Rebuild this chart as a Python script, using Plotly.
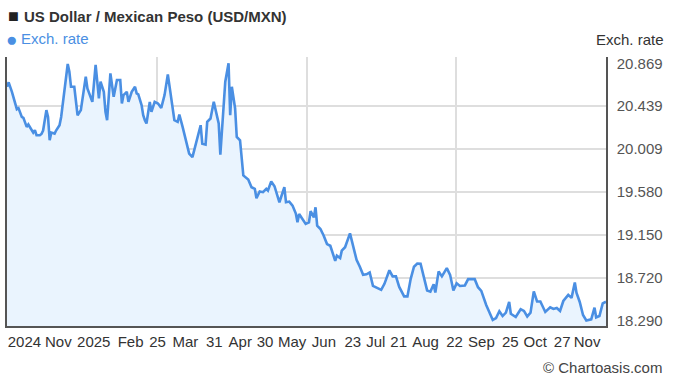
import plotly.graph_objects as go
import pandas as pd

# ---------------- data ----------------
start_date = "2024-11-26"
span_days = 365

day_offsets = [
    0, 1, 3, 5, 6, 7, 9, 10, 12, 13, 15, 16, 17, 18, 20, 21, 22, 24, 25, 26,
    27, 29, 30, 32, 33, 35, 37, 38, 39, 41, 42, 43, 45, 46, 48, 49, 51, 52, 54, 55,
    56, 57, 59, 60, 61, 63, 64, 65, 67, 69, 70, 71, 73, 74, 76, 78, 79, 80, 82, 83,
    84, 85, 87, 88, 90, 92, 94, 96, 98, 100, 102, 104, 105, 107, 109, 111, 113, 115, 118, 119,
    121, 122, 124, 126, 128, 129, 130, 132, 133, 135, 136, 137, 139, 140, 142, 144, 146, 147, 149, 151,
    152, 154, 156, 158, 159, 161, 163, 166, 169, 170, 172, 174, 176, 177, 178, 180, 182, 184, 185, 187,
    188, 189, 191, 193, 195, 197, 200, 201, 203, 204, 206, 209, 211, 213, 215, 217, 219, 221, 223, 225,
    228, 230, 232, 233, 235, 237, 239, 242, 244, 246, 248, 250, 252, 254, 256, 258, 260, 261, 263, 265,
    268, 270, 272, 274, 276, 279, 281, 285, 287, 289, 292, 296, 298, 300, 302, 304, 306, 307, 310, 313,
    315, 317, 319, 321, 323, 325, 328, 331, 333, 335, 337, 339, 342, 344, 346, 347, 349, 351, 353, 356,
    358, 359, 361, 363, 365,
]

rates = [
    20.633, 20.678, 20.583, 20.449, 20.409, 20.419, 20.331, 20.321, 20.231, 20.255,
    20.197, 20.174, 20.197, 20.147, 20.147, 20.160, 20.194, 20.399, 20.331, 20.097,
    20.174, 20.164, 20.197, 20.248, 20.331, 20.600, 20.862, 20.784, 20.633, 20.633,
    20.449, 20.348, 20.399, 20.517, 20.734, 20.617, 20.533, 20.482, 20.852, 20.684,
    20.517, 20.684, 20.583, 20.382, 20.298, 20.768, 20.617, 20.533, 20.701, 20.701,
    20.466, 20.550, 20.583, 20.482, 20.583, 20.633, 20.567, 20.557, 20.449, 20.348,
    20.298, 20.265, 20.482, 20.382, 20.482, 20.466, 20.422, 20.550, 20.758, 20.550,
    20.298, 20.281, 20.355, 20.231, 20.097, 19.963, 19.928, 20.063, 20.248, 20.063,
    20.053, 20.281, 20.315, 20.482, 20.331, 20.265, 19.953, 20.466, 20.684, 20.869,
    20.348, 20.633, 20.416, 20.130, 20.097, 19.744, 19.711, 19.704, 19.626, 19.610,
    19.516, 19.583, 19.576, 19.610, 19.593, 19.684, 19.636, 19.475, 19.626, 19.475,
    19.482, 19.442, 19.362, 19.274, 19.358, 19.308, 19.258, 19.274, 19.385, 19.324,
    19.425, 19.241, 19.207, 19.140, 19.056, 19.039, 18.888, 18.939, 18.915, 18.989,
    19.024, 19.163, 19.014, 18.898, 18.828, 18.747, 18.752, 18.770, 18.636, 18.619,
    18.596, 18.657, 18.754, 18.793, 18.732, 18.732, 18.626, 18.531, 18.531, 18.707,
    18.828, 18.861, 18.858, 18.737, 18.591, 18.579, 18.652, 18.569, 18.782, 18.732,
    18.815, 18.747, 18.591, 18.662, 18.636, 18.641, 18.704, 18.704, 18.623, 18.586,
    18.445, 18.295, 18.314, 18.382, 18.334, 18.368, 18.475, 18.357, 18.324, 18.402,
    18.385, 18.329, 18.368, 18.581, 18.480, 18.480, 18.375, 18.422, 18.405, 18.415,
    18.385, 18.485, 18.546, 18.516, 18.670, 18.569, 18.475, 18.344, 18.290, 18.301,
    18.418, 18.321, 18.334, 18.460, 18.478,
]

x_tick_labels = ["2024", "Nov", "2025", "Feb", "25", "Mar", "31", "Apr", "30", "May",
                 "Jun", "23", "Jul", "21", "Aug", "22", "Sep", "25", "Oct", "27", "Nov"]
y_tick_values = [18.290, 18.720, 19.150, 19.580, 20.009, 20.439, 20.869]

title_text = "US Dollar / Mexican Peso (USD/MXN)"
series_name = "Exch. rate"
axis_title = "Exch. rate"
credit_text = "© Chartoasis.com"

# ---------------- layout / positions ----------------
W, H = 675, 382
PL, PR, PT, PB = 5, 606, 57, 326          # plot area in pixels
y_range = [18.234, 20.932]

x_tick_frac = [0.0291, 0.0857, 0.1448, 0.2063, 0.2512, 0.2978, 0.3461, 0.3894, 0.4309,
               0.4759, 0.5291, 0.5774, 0.6156, 0.6539, 0.6988, 0.7471, 0.7920, 0.8403,
               0.8819, 0.9268, 0.9684]
x_grid_frac = [0.25, 0.5, 0.75]

t0 = pd.Timestamp(start_date)
dates = [(t0 + pd.Timedelta(days=d)).strftime("%Y-%m-%d") for d in day_offsets]


def frac_to_date(f):
    return (t0 + pd.Timedelta(hours=f * span_days * 24)).strftime("%Y-%m-%d %H:%M:%S")


def px(x):
    return (x - PL) / (PR - PL)


def py(y):
    return (PB - y) / (PB - PT)


LINE = "#4a8fe3"
FILL = "#eaf4fe"
GRID = "#dedede"
AXIS = "#555555"
FONT = "Liberation Sans, Arial, sans-serif"

fig = go.Figure()
fig.add_trace(go.Scatter(
    x=dates, y=rates, mode="lines", name=series_name,
    line=dict(color=LINE, width=2.6),
    fill="tozeroy", fillcolor=FILL, showlegend=False,
    hoverinfo="x+y",
))

fig.update_layout(
    width=W, height=H,
    margin=dict(l=PL, r=W - PR, t=PT, b=H - PB, pad=0),
    paper_bgcolor="white", plot_bgcolor="white",
    font=dict(family=FONT, size=15, color="#333333"),
    xaxis=dict(
        type="date",
        range=[frac_to_date(0), frac_to_date(1)],
        tickmode="array",
        tickvals=[frac_to_date(f) for f in x_tick_frac],
        ticktext=x_tick_labels,
        ticks="", showgrid=False, zeroline=False,
        showline=True, linecolor=AXIS, linewidth=1.5,
        tickfont=dict(size=15, color="#333333"),
        ticklabelstandoff=1,
        minor=dict(tickmode="array", tickvals=[frac_to_date(f) for f in x_grid_frac],
                   showgrid=True, gridcolor=GRID, gridwidth=1.5, ticks=""),
    ),
    yaxis=dict(
        side="right",
        range=y_range,
        tickmode="array",
        tickvals=y_tick_values,
        ticktext=[f"{v:.3f}" for v in y_tick_values],
        ticks="", showgrid=False, zeroline=False,
        showline=True, mirror=True, linecolor=AXIS, linewidth=1.5,
        tickfont=dict(size=15, color="#555555"),
        ticklabelstandoff=6,
        minor=dict(tickmode="array", tickvals=y_tick_values[1:-1],
                   showgrid=True, gridcolor=GRID, gridwidth=1.5, ticks=""),
    ),
)

ann = [
    dict(text="■", x=px(4), y=py(16), xanchor="left", yanchor="middle",
         font=dict(size=18, color="#222222")),
    dict(text="<b>" + title_text + "</b>", x=px(20), y=py(17), xanchor="left", yanchor="middle",
         font=dict(size=15, color="#333333")),
    dict(text="●", x=px(2), y=py(39), xanchor="left", yanchor="middle",
         font=dict(size=19, color=LINE)),
    dict(text=series_name, x=px(17), y=py(38), xanchor="left", yanchor="middle",
         font=dict(size=15, color=LINE)),
    dict(text=axis_title, x=px(666), y=py(40), xanchor="right", yanchor="middle",
         font=dict(size=15, color="#333333")),
    dict(text=credit_text, x=px(664), y=py(367), xanchor="right", yanchor="middle",
         font=dict(size=15, color="#444444")),
]
for a in ann:
    a.update(xref="paper", yref="paper", showarrow=False)
fig.update_layout(annotations=ann)

fig.write_html(
    "out.html",
    config={"displayModeBar": False},
    post_script="document.body.style.margin='0';document.body.style.padding='0';",
)
